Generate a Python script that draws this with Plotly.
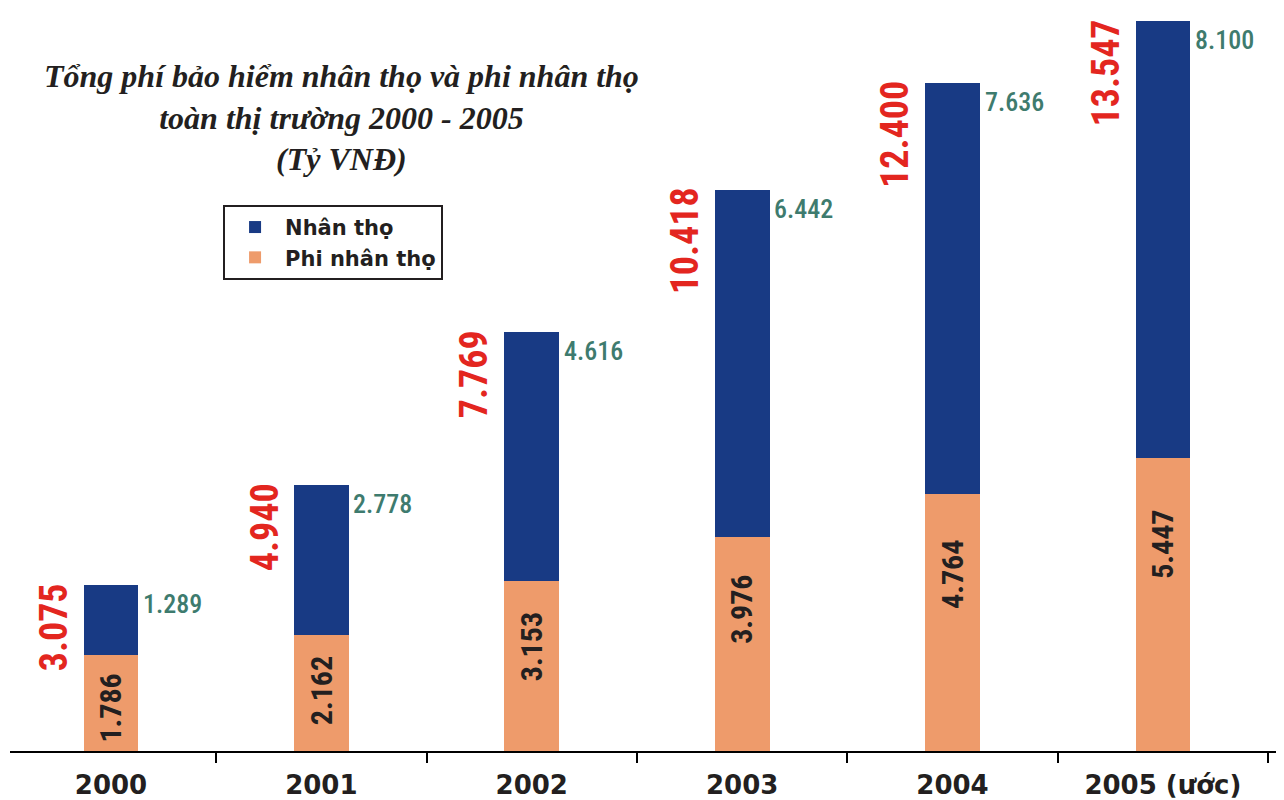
import plotly.graph_objects as go

years = ["2000", "2001", "2002", "2003", "2004", "2005 (ước)"]
nhan_tho = [1.289, 2.778, 4.616, 6.442, 7.636, 8.100]
phi_nhan_tho = [1.786, 2.162, 3.153, 3.976, 4.764, 5.447]
tong = [3.075, 4.940, 7.769, 10.418, 12.400, 13.547]

def vn(v):
    return f"{v:.3f}"

NAVY = "#183A84"
ORANGE = "#EE9B6B"
RED = "#E3261F"
TEAL = "#3E7B6E"
INK = "#231F20"
NARROW = "Roboto Condensed, Liberation Sans Narrow, DejaVu Sans Condensed, sans-serif"

fig = go.Figure()
fig.add_trace(go.Bar(x=years, y=phi_nhan_tho, name="Phi nhân thọ",
                     marker=dict(color=ORANGE, line=dict(width=0)), width=0.26))
fig.add_trace(go.Bar(x=years, y=nhan_tho, name="Nhân thọ",
                     marker=dict(color=NAVY, line=dict(width=0)), width=0.26))

annotations = []
for i, (t, nt, pt) in enumerate(zip(tong, nhan_tho, phi_nhan_tho)):
    # total, rotated, left of bar
    annotations.append(dict(x=i, y=t, text=vn(t), textangle=-90, showarrow=False,
                            xanchor="center", yanchor="top", xshift=-57, yshift=4,
                            font=dict(family=NARROW, size=38, color=RED, weight="bold")))
    # life insurance value, right of bar top
    annotations.append(dict(x=i, y=t, text=vn(nt), showarrow=False,
                            xanchor="left", yanchor="top", xshift=30, yshift=-2,
                            font=dict(family=NARROW, size=26, color=TEAL, weight=500)))
    # non-life value inside orange segment
    annotations.append(dict(x=i, y=pt * 0.83, text=vn(pt), textangle=-90, showarrow=False,
                            xanchor="center", yanchor="top",
                            font=dict(family=NARROW, size=30, color=INK, weight="bold")))

annotations.append(dict(xref="paper", yref="paper", x=0.261, y=0.852,
                        text="Tổng phí bảo hiểm nhân thọ và phi nhân thọ<br>toàn thị trường 2000 - 2005<br>(Tỷ VNĐ)",
                        showarrow=False, xanchor="center", yanchor="middle", align="center",
                        font=dict(family="Liberation Serif, Times New Roman, serif", size=32,
                                  color=INK, weight="bold", style="italic")))

fig.update_layout(
    width=1284, height=800,
    margin=dict(l=2, r=10, t=0, b=57),
    paper_bgcolor="white", plot_bgcolor="white",
    barmode="stack",
    showlegend=True,
    legend=dict(x=0.1675, y=0.735, xanchor="left", yanchor="top",
                traceorder="reversed", bordercolor="#231F20", borderwidth=2,
                bgcolor="white", itemwidth=50, tracegroupgap=0,
                font=dict(family="DejaVu Sans, sans-serif", size=21, color=INK, weight="bold")),
    xaxis=dict(type="category", range=[-0.48, 5.566], tickson="boundaries",
               ticks="outside", ticklen=10, tickwidth=2, tickcolor="black",
               ticklabelstandoff=10,
               showline=True, linecolor="black", linewidth=2, showgrid=False,
               tickfont=dict(family="DejaVu Sans, sans-serif", size=26, color=INK, weight="bold")),
    yaxis=dict(range=[0, 13.79], visible=False, showgrid=False, zeroline=False),
    annotations=annotations,
    bargap=0.74,
)

fig.write_html("out.html")
